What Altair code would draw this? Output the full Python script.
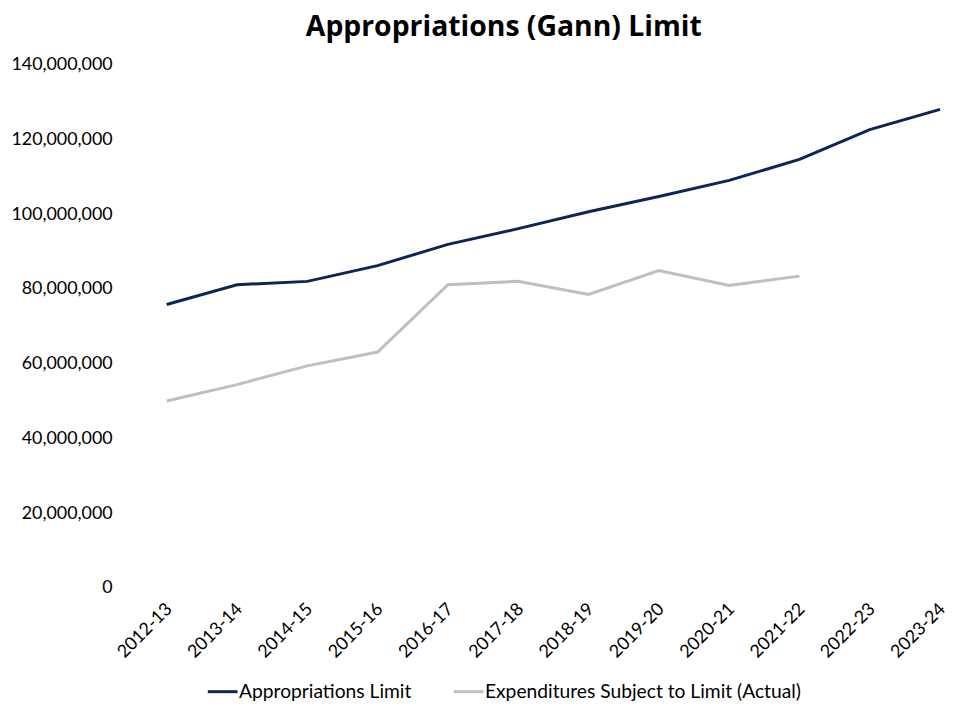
import altair as alt
import pandas as pd

years = ["2012-13", "2013-14", "2014-15", "2015-16", "2016-17", "2017-18",
         "2018-19", "2019-20", "2020-21", "2021-22", "2022-23", "2023-24"]
approp_limit = [75.8, 81.1, 82.0, 86.2, 91.9, 96.1, 100.6, 104.7, 109.0, 114.6, 122.6, 128.0]
expenditures = [50.0, 54.4, 59.4, 63.1, 81.1, 82.0, 78.5, 84.9, 80.9, 83.4, None, None]
series_names = ["Appropriations Limit", "Expenditures Subject to Limit (Actual)"]
series_colors = ["#0B2557", "#BFBFBF"]

rows = []
for i, y in enumerate(years):
    rows.append({"year": y, "series": series_names[0], "value": approp_limit[i] * 1e6})
    if expenditures[i] is not None:
        rows.append({"year": y, "series": series_names[1], "value": expenditures[i] * 1e6})
df = pd.DataFrame(rows)

font = "Lato"

chart = alt.Chart(df).mark_line(strokeWidth=3).encode(
    x=alt.X("year:N", sort=years,
            scale=alt.Scale(type="point", padding=0),
            axis=alt.Axis(title=None, labelAngle=-45, domain=False, ticks=False,
                          labelFontSize=18, labelColor="#000000", labelPadding=12,
                          labelOffset=-4, labelFont=font)),
    y=alt.Y("value:Q",
            scale=alt.Scale(domain=[0, 140000000]),
            axis=alt.Axis(title=None, values=list(range(0, 140000001, 20000000)),
                          format=",d", domain=False, ticks=False, grid=False,
                          labelFontSize=18, labelColor="#000000", labelPadding=55,
                          labelFont=font)),
    color=alt.Color("series:N",
                    scale=alt.Scale(domain=series_names, range=series_colors),
                    legend=alt.Legend(title=None, orient="none", direction="horizontal",
                                      legendX=40, legendY=616,
                                      symbolType="stroke", symbolSize=900,
                                      symbolStrokeWidth=3, labelFontSize=19.4,
                                      labelFont=font, labelColor="#000000",
                                      labelLimit=500,
                                      columnPadding=36, labelOffset=0)),
).properties(
    width=780, height=528,
    autosize=alt.AutoSizeParams(type="none"),
    padding={"left": 160, "top": 54, "right": 10, "bottom": 111},
    title=alt.TitleParams("Appropriations (Gann) Limit", fontSize=28.6, font="Open Sans",
                          fontWeight="bold", color="#000000", anchor="middle", dx=-50,
                          offset=14),
).configure_view(stroke=None)

chart.save("out.html", embed_options={"renderer": "svg", "actions": False})
